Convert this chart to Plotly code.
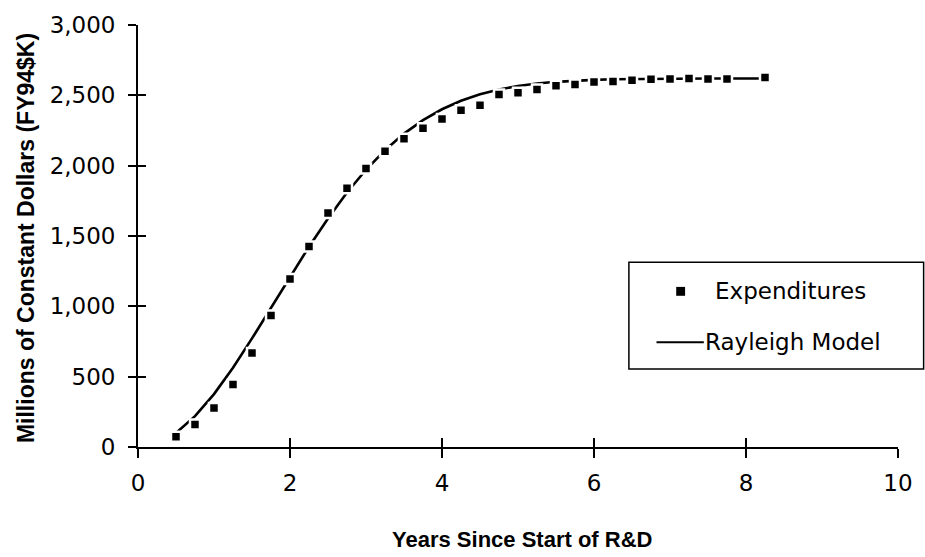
import plotly.graph_objects as go

# Data
years = [0.5, 0.75, 1.0, 1.25, 1.5, 1.75, 2.0, 2.25, 2.5, 2.75, 3.0, 3.25, 3.5, 3.75,
         4.0, 4.25, 4.5, 4.75, 5.0, 5.25, 5.5, 5.75, 6.0, 6.25, 6.5, 6.75, 7.0,
         7.25, 7.5, 7.75, 8.25]
expenditures = [72, 160, 277, 444, 669, 935, 1195, 1425, 1663, 1840, 1980, 2102, 2192,
                2266, 2331, 2394, 2430, 2506, 2519, 2542, 2568, 2577, 2594, 2599,
                2608, 2615, 2617, 2620, 2617, 2617, 2627]
rayleigh = [100, 219, 376, 564, 772, 990, 1210, 1424, 1625, 1809, 1971, 2110, 2228,
            2324, 2401, 2461, 2507, 2541, 2566, 2584, 2596, 2604, 2610, 2614, 2616,
            2618, 2619, 2619, 2620, 2620, 2620]

x_ticks = [0, 2, 4, 6, 8, 10]
y_ticks = [0, 500, 1000, 1500, 2000, 2500, 3000]

TICK_FONT = dict(family="DejaVu Sans", size=23, color="black")

L, R, T, B = 138, 16, 20, 110
PW, PH = 925 - L - R, 557 - T - B


def px_x(p):
    return (p - L) / PW


def px_y(p):
    return (557 - B - p) / PH


fig = go.Figure()
fig.add_trace(go.Scatter(
    x=years, y=rayleigh, mode="lines", name="Rayleigh Model",
    line=dict(color="black", width=2.6), showlegend=False,
))
fig.add_trace(go.Scatter(
    x=years, y=expenditures, mode="markers", name="Expenditures",
    marker=dict(symbol="square", size=10, color="black",
                line=dict(color="white", width=2.5)),
    showlegend=False,
))
# invisible trace to carry the overlay axes (inner half of crossing ticks)
fig.add_trace(go.Scatter(x=[None], y=[None], xaxis="x2", yaxis="y2",
                         showlegend=False, hoverinfo="skip"))

fig.update_layout(
    width=925, height=557,
    margin=dict(l=L, r=R, t=T, b=B),
    paper_bgcolor="white", plot_bgcolor="white",
    showlegend=False,
    xaxis=dict(
        range=[0, 10], tickvals=x_ticks, ticks="outside", ticklen=9,
        tickwidth=1.5, tickcolor="black", showline=True, linecolor="black",
        linewidth=1.8, showgrid=False, zeroline=False, tickfont=TICK_FONT,
        ticklabelstandoff=5,
    ),
    yaxis=dict(
        range=[0, 3000], tickvals=y_ticks, tickformat=",", ticks="outside",
        ticklen=8, tickwidth=1.5, tickcolor="black", showline=True,
        linecolor="black", linewidth=1.8, showgrid=False, zeroline=False,
        tickfont=TICK_FONT, ticklabelstandoff=8,
    ),
    xaxis2=dict(
        range=[0, 10], tickvals=x_ticks, ticks="inside", ticklen=9,
        tickwidth=1.5, tickcolor="black", showticklabels=False,
        overlaying="x", side="bottom", showgrid=False, zeroline=False,
        showline=False,
    ),
    yaxis2=dict(
        range=[0, 3000], tickvals=y_ticks, ticks="inside", ticklen=8,
        tickwidth=1.5, tickcolor="black", showticklabels=False,
        overlaying="y", side="left", showgrid=False, zeroline=False,
        showline=False,
    ),
)

# Axis titles
fig.add_annotation(text="<b>Years Since Start of R&amp;D</b>", xref="paper", yref="paper",
                   x=px_x(528), y=px_y(541), xanchor="center", yanchor="middle",
                   showarrow=False,
                   font=dict(family="Liberation Sans", size=22, color="black"))
fig.add_annotation(text="<b>Millions of Constant Dollars (FY94$K)</b>",
                   xref="paper", yref="paper",
                   x=px_x(25), y=px_y(236), xanchor="center", yanchor="middle",
                   textangle=-90, showarrow=False,
                   font=dict(family="Liberation Sans", size=23, color="black"))

# Legend box (drawn manually, extends beyond the right edge like the reference)
fig.add_shape(type="rect", xref="paper", yref="paper",
              x0=px_x(636), x1=px_x(935), y0=px_y(368), y1=px_y(260),
              line=dict(color="black", width=1.5), fillcolor="white")
# legend swatch: square marker
fig.add_shape(type="rect", xref="paper", yref="paper",
              x0=px_x(684), x1=px_x(693), y0=px_y(294), y1=px_y(285),
              line=dict(width=0), fillcolor="black")
# legend swatch: line
fig.add_shape(type="line", xref="paper", yref="paper",
              x0=px_x(664), x1=px_x(712), y0=px_y(341), y1=px_y(341),
              line=dict(color="black", width=2.2))
LEG_FONT = dict(family="DejaVu Sans", size=23, color="black")
fig.add_annotation(text="Expenditures", xref="paper", yref="paper",
                   x=px_x(721), y=px_y(289),
                   xanchor="left", yanchor="middle", showarrow=False, font=LEG_FONT)
fig.add_annotation(text="Rayleigh Model", xref="paper", yref="paper",
                   x=px_x(711), y=px_y(341),
                   xanchor="left", yanchor="middle", showarrow=False, font=LEG_FONT)

fig.write_html("out.html")
